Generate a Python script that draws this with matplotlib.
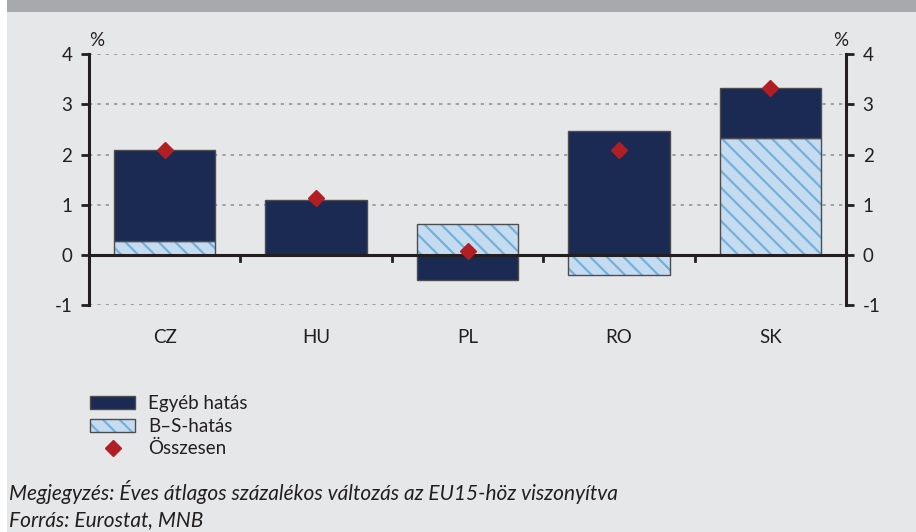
import matplotlib
matplotlib.use("Agg")
import matplotlib.pyplot as plt
from matplotlib.patches import Rectangle, Patch
from matplotlib.lines import Line2D
from matplotlib.legend_handler import HandlerBase
import numpy as np

plt.rcParams['font.family'] = ['Lato', 'DejaVu Sans']
plt.rcParams['hatch.linewidth'] = 1.6

categories = ['CZ', 'HU', 'PL', 'RO', 'SK']
egyeb = [1.83, 1.10, -0.50, 2.48, 1.00]
bs = [0.27, 0.00, 0.62, -0.40, 2.33]
osszesen = [2.10, 1.13, 0.08, 2.10, 3.33]
yticks = [-1, 0, 1, 2, 3, 4]

navy = '#1A2A52'
light = '#C5DCF0'
hatchc = '#74B0DC'
red = '#B11F24'
bg = '#E6E7E8'
dark = '#231F20'
edge = '#4D4D4F'
FS = 13.5

fig = plt.figure(figsize=(9.16, 5.32), dpi=100)
fig.patch.set_facecolor('white')
fig.add_artist(Rectangle((7/916, 0), 1, 1, transform=fig.transFigure, facecolor=bg, edgecolor='none', zorder=-10))
fig.add_artist(Rectangle((7/916, 1 - 12/532), 1, 12/532, transform=fig.transFigure, facecolor='#A7A9AC', edgecolor='none', zorder=-9))

ax = fig.add_axes([89/916, 1 - 305/532, (846 - 89)/916, (305 - 54.3)/532])
ax.patch.set_alpha(0)

x = np.arange(len(categories))
w = 0.67
egyeb = np.array(egyeb)
bs = np.array(bs)
pos_b = np.where(bs > 0, bs, 0)
neg_b = np.where(bs < 0, bs, 0)
bottom_e = np.where(egyeb >= 0, pos_b, neg_b)

# hatched B-S bars: fill+hatch, then outline
ax.bar(x, bs, w, color=light, edgecolor=hatchc, linewidth=0, hatch='\\\\', zorder=3)
ax.bar(x, bs, w, fill=False, edgecolor=edge, linewidth=1.0, zorder=3)
ax.bar(x, egyeb, w, bottom=bottom_e, color=navy, edgecolor=edge, linewidth=1.0, zorder=3)
ax.plot(x, osszesen, linestyle='none', marker='D', markersize=8.5, color=red, zorder=5)

ax.set_xlim(-0.5, len(categories) - 0.5)
ax.set_ylim(-1, 4)
ax.set_yticks(yticks)
ax.set_yticklabels([str(t) for t in yticks])
for t in [1, 2, 3, 4, -1]:
    ax.axhline(t, color='#939598', linestyle=(0, (2, 3)), linewidth=1.2, zorder=1)
ax.axhline(0, color=dark, linewidth=2.2, zorder=4)
for b in np.arange(0.5, len(categories) - 0.5, 1):
    ax.plot([b, b], [0, -0.13], color=dark, linewidth=2, zorder=4, clip_on=False)

for s in ['top', 'bottom']:
    ax.spines[s].set_visible(False)
for s in ['left', 'right']:
    ax.spines[s].set_linewidth(2.2)
    ax.spines[s].set_color(dark)

ax.set_xticks([])
ax.tick_params(axis='y', which='both', direction='out', length=6, width=2, color=dark,
               labelsize=FS, labelcolor=dark, left=True, right=True, labelleft=True, labelright=True, pad=6)

for i, c in enumerate(categories):
    ax.text(i, -1.65, c, ha='center', va='center', fontsize=FS, color=dark)

fig.text(97/916, 1 - 40/532, '%', ha='center', va='center', fontsize=FS, color=dark)
fig.text(841/916, 1 - 40/532, '%', ha='center', va='center', fontsize=FS, color=dark)


class HatchHandler(HandlerBase):
    def create_artists(self, legend, orig_handle, xdescent, ydescent, width, height, fontsize, trans):
        r1 = Rectangle((-xdescent, -ydescent), width, height, facecolor=light, edgecolor=hatchc,
                       linewidth=0, hatch='\\\\', transform=trans)
        r2 = Rectangle((-xdescent, -ydescent), width, height, fill=False, edgecolor=edge,
                       linewidth=1.0, transform=trans)
        return [r1, r2]


hatch_handle = Patch(facecolor=light)
handles = [Patch(facecolor=navy, edgecolor=edge, linewidth=1.0),
           hatch_handle,
           Line2D([], [], linestyle='none', marker='D', markersize=8.5, color=red)]
labels = ['Egyéb hatás', 'B–S-hatás', 'Összesen']
leg = fig.legend(handles, labels, loc='upper left', bbox_to_anchor=(90/916, 1 - 395/532),
                 frameon=False, fontsize=FS, handlelength=2.4, handleheight=0.7,
                 labelspacing=0.3, handletextpad=0.7, borderpad=0, borderaxespad=0, labelcolor=dark,
                 handler_map={hatch_handle: HatchHandler()})

fig.text(9/916, 1 - 492/532, 'Megjegyzés: Éves átlagos százalékos változás az EU15-höz viszonyítva',
         ha='left', va='center', fontsize=15, style='italic', color=dark)
fig.text(9/916, 1 - 520/532, 'Forrás: Eurostat, MNB',
         ha='left', va='center', fontsize=15, style='italic', color=dark)

fig.savefig('out.png', dpi=100, facecolor=fig.get_facecolor())
